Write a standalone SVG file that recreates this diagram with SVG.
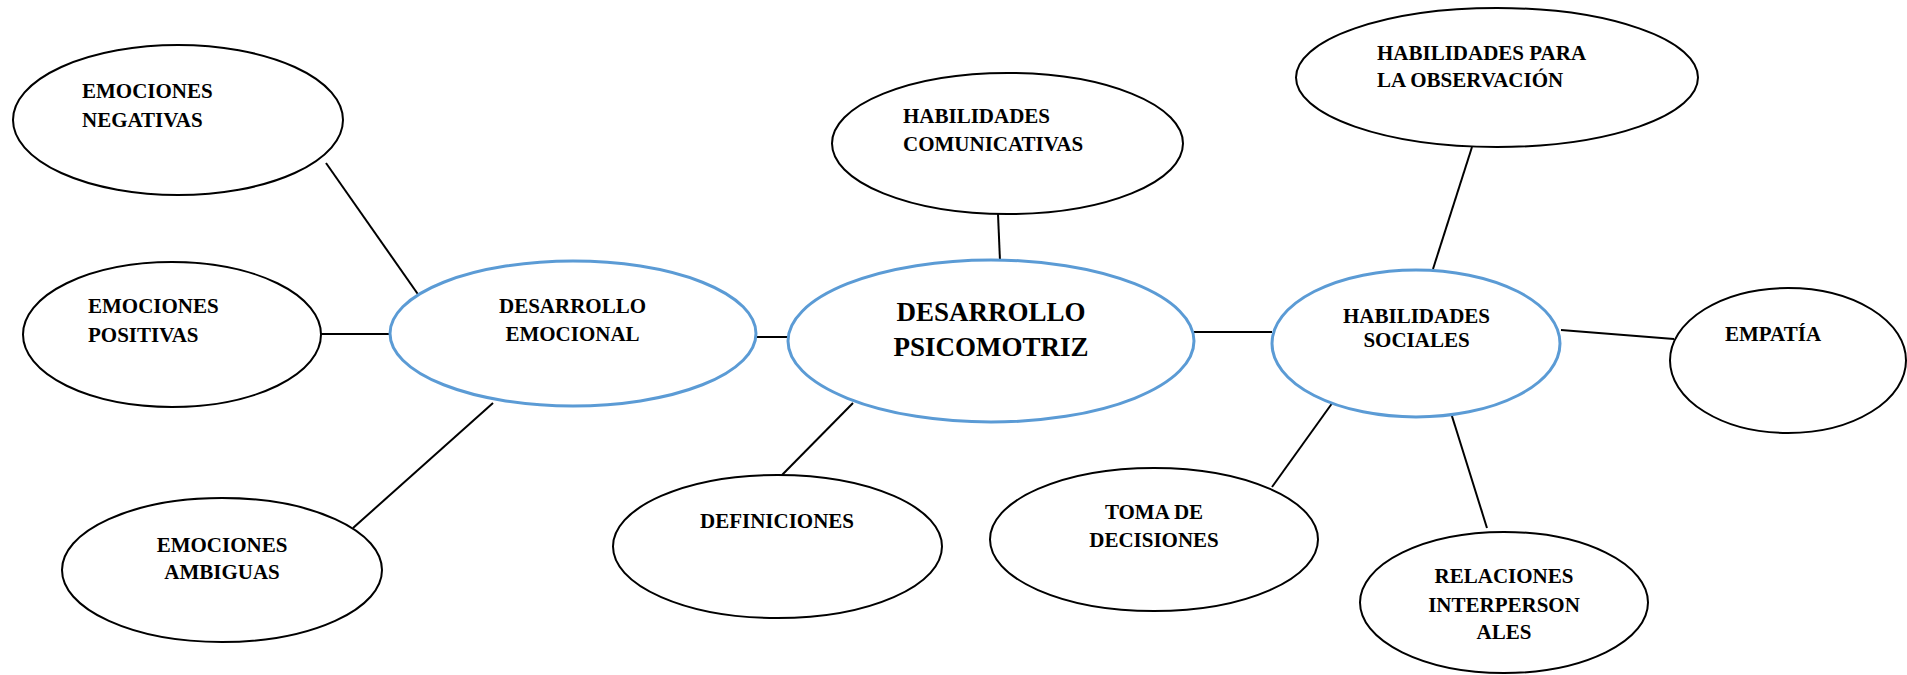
<svg xmlns="http://www.w3.org/2000/svg" width="1907" height="675" viewBox="0 0 1907 675">
<style>
.n{fill:#fff;stroke:#000;stroke-width:2}
.c{fill:#fff;stroke:#5B9BD5;stroke-width:3}
.l{stroke:#000;stroke-width:2;fill:none}
text{font-family:"Liberation Serif","Times New Roman",serif;font-weight:bold;font-size:21px;fill:#000}
.m{text-anchor:middle}
.big{font-size:27px}
</style>
<rect width="1907" height="675" fill="#fff"/>
<g id="connectors">
<line class="l" x1="326" y1="163" x2="422" y2="300"/>
<line class="l" x1="321" y1="334" x2="390" y2="334"/>
<line class="l" x1="353" y1="528" x2="493" y2="403"/>
<line class="l" x1="756" y1="337" x2="788" y2="337"/>
<line class="l" x1="998" y1="214" x2="1000" y2="261"/>
<line class="l" x1="853" y1="403" x2="782" y2="475"/>
<line class="l" x1="1194" y1="332" x2="1272" y2="332"/>
<line class="l" x1="1472" y1="147" x2="1433" y2="269"/>
<line class="l" x1="1561" y1="330" x2="1674" y2="339"/>
<line class="l" x1="1333" y1="402" x2="1272" y2="487"/>
<line class="l" x1="1451" y1="413" x2="1487" y2="528"/>
</g>
<g id="emociones-negativas">
<ellipse class="n" cx="178" cy="120" rx="165" ry="75"/>
<text x="82" y="98">EMOCIONES</text>
<text x="82" y="127">NEGATIVAS</text>
</g>
<g id="emociones-positivas">
<ellipse class="n" cx="172" cy="334.5" rx="149" ry="72.5"/>
<text x="88" y="313">EMOCIONES</text>
<text x="88" y="342">POSITIVAS</text>
</g>
<g id="emociones-ambiguas">
<ellipse class="n" cx="222" cy="570" rx="160" ry="72"/>
<text class="m" x="222" y="552">EMOCIONES</text>
<text class="m" x="222" y="579">AMBIGUAS</text>
</g>
<g id="desarrollo-emocional">
<ellipse class="c" cx="573" cy="333.5" rx="183" ry="72.5"/>
<text class="m" x="572.5" y="313">DESARROLLO</text>
<text class="m" x="572.5" y="341">EMOCIONAL</text>
</g>
<g id="desarrollo-psicomotriz">
<ellipse class="c" cx="991" cy="341" rx="203" ry="81"/>
<text class="m big" x="991" y="321">DESARROLLO</text>
<text class="m big" x="991" y="356">PSICOMOTRIZ</text>
</g>
<g id="habilidades-comunicativas">
<ellipse class="n" cx="1007.5" cy="143.5" rx="175.5" ry="70.5"/>
<text x="903" y="123">HABILIDADES</text>
<text x="903" y="151">COMUNICATIVAS</text>
</g>
<g id="definiciones">
<ellipse class="n" cx="777.5" cy="546.5" rx="164.5" ry="71.5"/>
<text class="m" x="777" y="528">DEFINICIONES</text>
</g>
<g id="habilidades-sociales">
<ellipse class="c" cx="1416" cy="343.5" rx="144" ry="73.5"/>
<text class="m" x="1416.5" y="323">HABILIDADES</text>
<text class="m" x="1416.5" y="347">SOCIALES</text>
</g>
<g id="habilidades-observacion">
<ellipse class="n" cx="1497" cy="77.5" rx="201" ry="69.5"/>
<text x="1377" y="60">HABILIDADES PARA</text>
<text x="1377" y="87">LA OBSERVACIÓN</text>
</g>
<g id="empatia">
<ellipse class="n" cx="1788" cy="360.5" rx="118" ry="72.5"/>
<text x="1725" y="341">EMPATÍA</text>
</g>
<g id="toma-de-decisiones">
<ellipse class="n" cx="1154" cy="539.5" rx="164" ry="71.5"/>
<text class="m" x="1154" y="519">TOMA DE</text>
<text class="m" x="1154" y="547">DECISIONES</text>
</g>
<g id="relaciones-interpersonales">
<ellipse class="n" cx="1504" cy="602.5" rx="144" ry="70.5"/>
<text class="m" x="1504" y="583">RELACIONES</text>
<text class="m" x="1504" y="612">INTERPERSON</text>
<text class="m" x="1504" y="639">ALES</text>
</g>
</svg>
